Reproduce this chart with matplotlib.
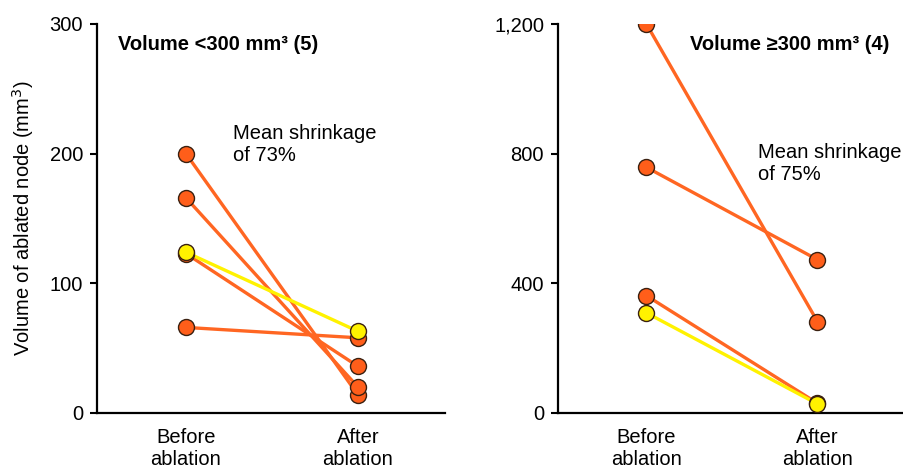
import matplotlib
matplotlib.use('Agg')
import matplotlib.pyplot as plt
from matplotlib.ticker import FuncFormatter

plt.rcParams['font.family'] = ['Liberation Sans', 'DejaVu Sans']

stages = ['Before\nablation', 'After\nablation']

# left panel: nodes < 300 mm3 (before, after)
small_before = [200, 166, 123, 66]
small_after = [14, 20, 36, 58]
small_yellow = [124, 63]

# right panel: nodes >= 300 mm3
large_before = [1200, 758, 362]
large_after = [282, 473, 30]
large_yellow = [309, 28]

orange = '#FF6622'
orange_face = '#FF5E1A'
yellow = '#FFF200'
edge = '#3a2010'

fig = plt.figure(figsize=(9.04, 4.68), dpi=100)
ax1 = fig.add_axes([97/904, 55/468, 348/904, 389/468])
ax2 = fig.add_axes([558/904, 55/468, 346/904, 389/468])


def pair(ax, b, a, col, face):
    ax.plot([0, 1], [b, a], '-', color=col, lw=2.4, zorder=2)
    ax.plot([0, 1], [b, a], 'o', ms=11.5, mfc=face, mec=edge, mew=1.0, zorder=3)


for b, a in zip(small_before, small_after):
    pair(ax1, b, a, orange, orange_face)
pair(ax1, small_yellow[0], small_yellow[1], yellow, yellow)

for b, a in zip(large_before, large_after):
    pair(ax2, b, a, orange, orange_face)
pair(ax2, large_yellow[0], large_yellow[1], yellow, yellow)

for ax in (ax1, ax2):
    ax.set_xlim(-0.517, 1.506)
    ax.set_xticks([0, 1])
    ax.set_xticklabels(stages, fontsize=14.5, linespacing=1.15)
    ax.tick_params(axis='x', length=0, pad=11)
    ax.tick_params(axis='y', length=5, width=1.5, labelsize=14.5, pad=5, direction='out')
    ax.spines['top'].set_visible(False)
    ax.spines['right'].set_visible(False)
    ax.spines['left'].set_linewidth(1.6)
    ax.spines['bottom'].set_linewidth(1.6)
    for s in ax.spines.values():
        s.set_clip_on(False)

ax1.set_ylim(0, 300)
ax1.set_yticks([0, 100, 200, 300])
ax2.set_ylim(0, 1200)
ax2.set_yticks([0, 400, 800, 1200])
ax2.yaxis.set_major_formatter(FuncFormatter(lambda v, p: f'{int(v):,}'))

ax1.set_ylabel('Volume of ablated node (mm$^3$)', fontsize=14.5, labelpad=10)

fig.text(118/904, 1 - 45/468, 'Volume <300 mm\u00b3 (5)',
         fontsize=14.5, fontweight='bold', va='center', ha='left')
fig.text(690/904, 1 - 45/468, 'Volume \u2265300 mm\u00b3 (4)',
         fontsize=14.5, fontweight='bold', va='center', ha='left')

fig.text(233/904, 1 - 124/468, 'Mean shrinkage\nof 73%', fontsize=14.5, va='top', ha='left',
         linespacing=1.2)
fig.text(758/904, 1 - 143/468, 'Mean shrinkage\nof 75%', fontsize=14.5, va='top', ha='left',
         linespacing=1.2)

fig.savefig('out.png', dpi=100)
